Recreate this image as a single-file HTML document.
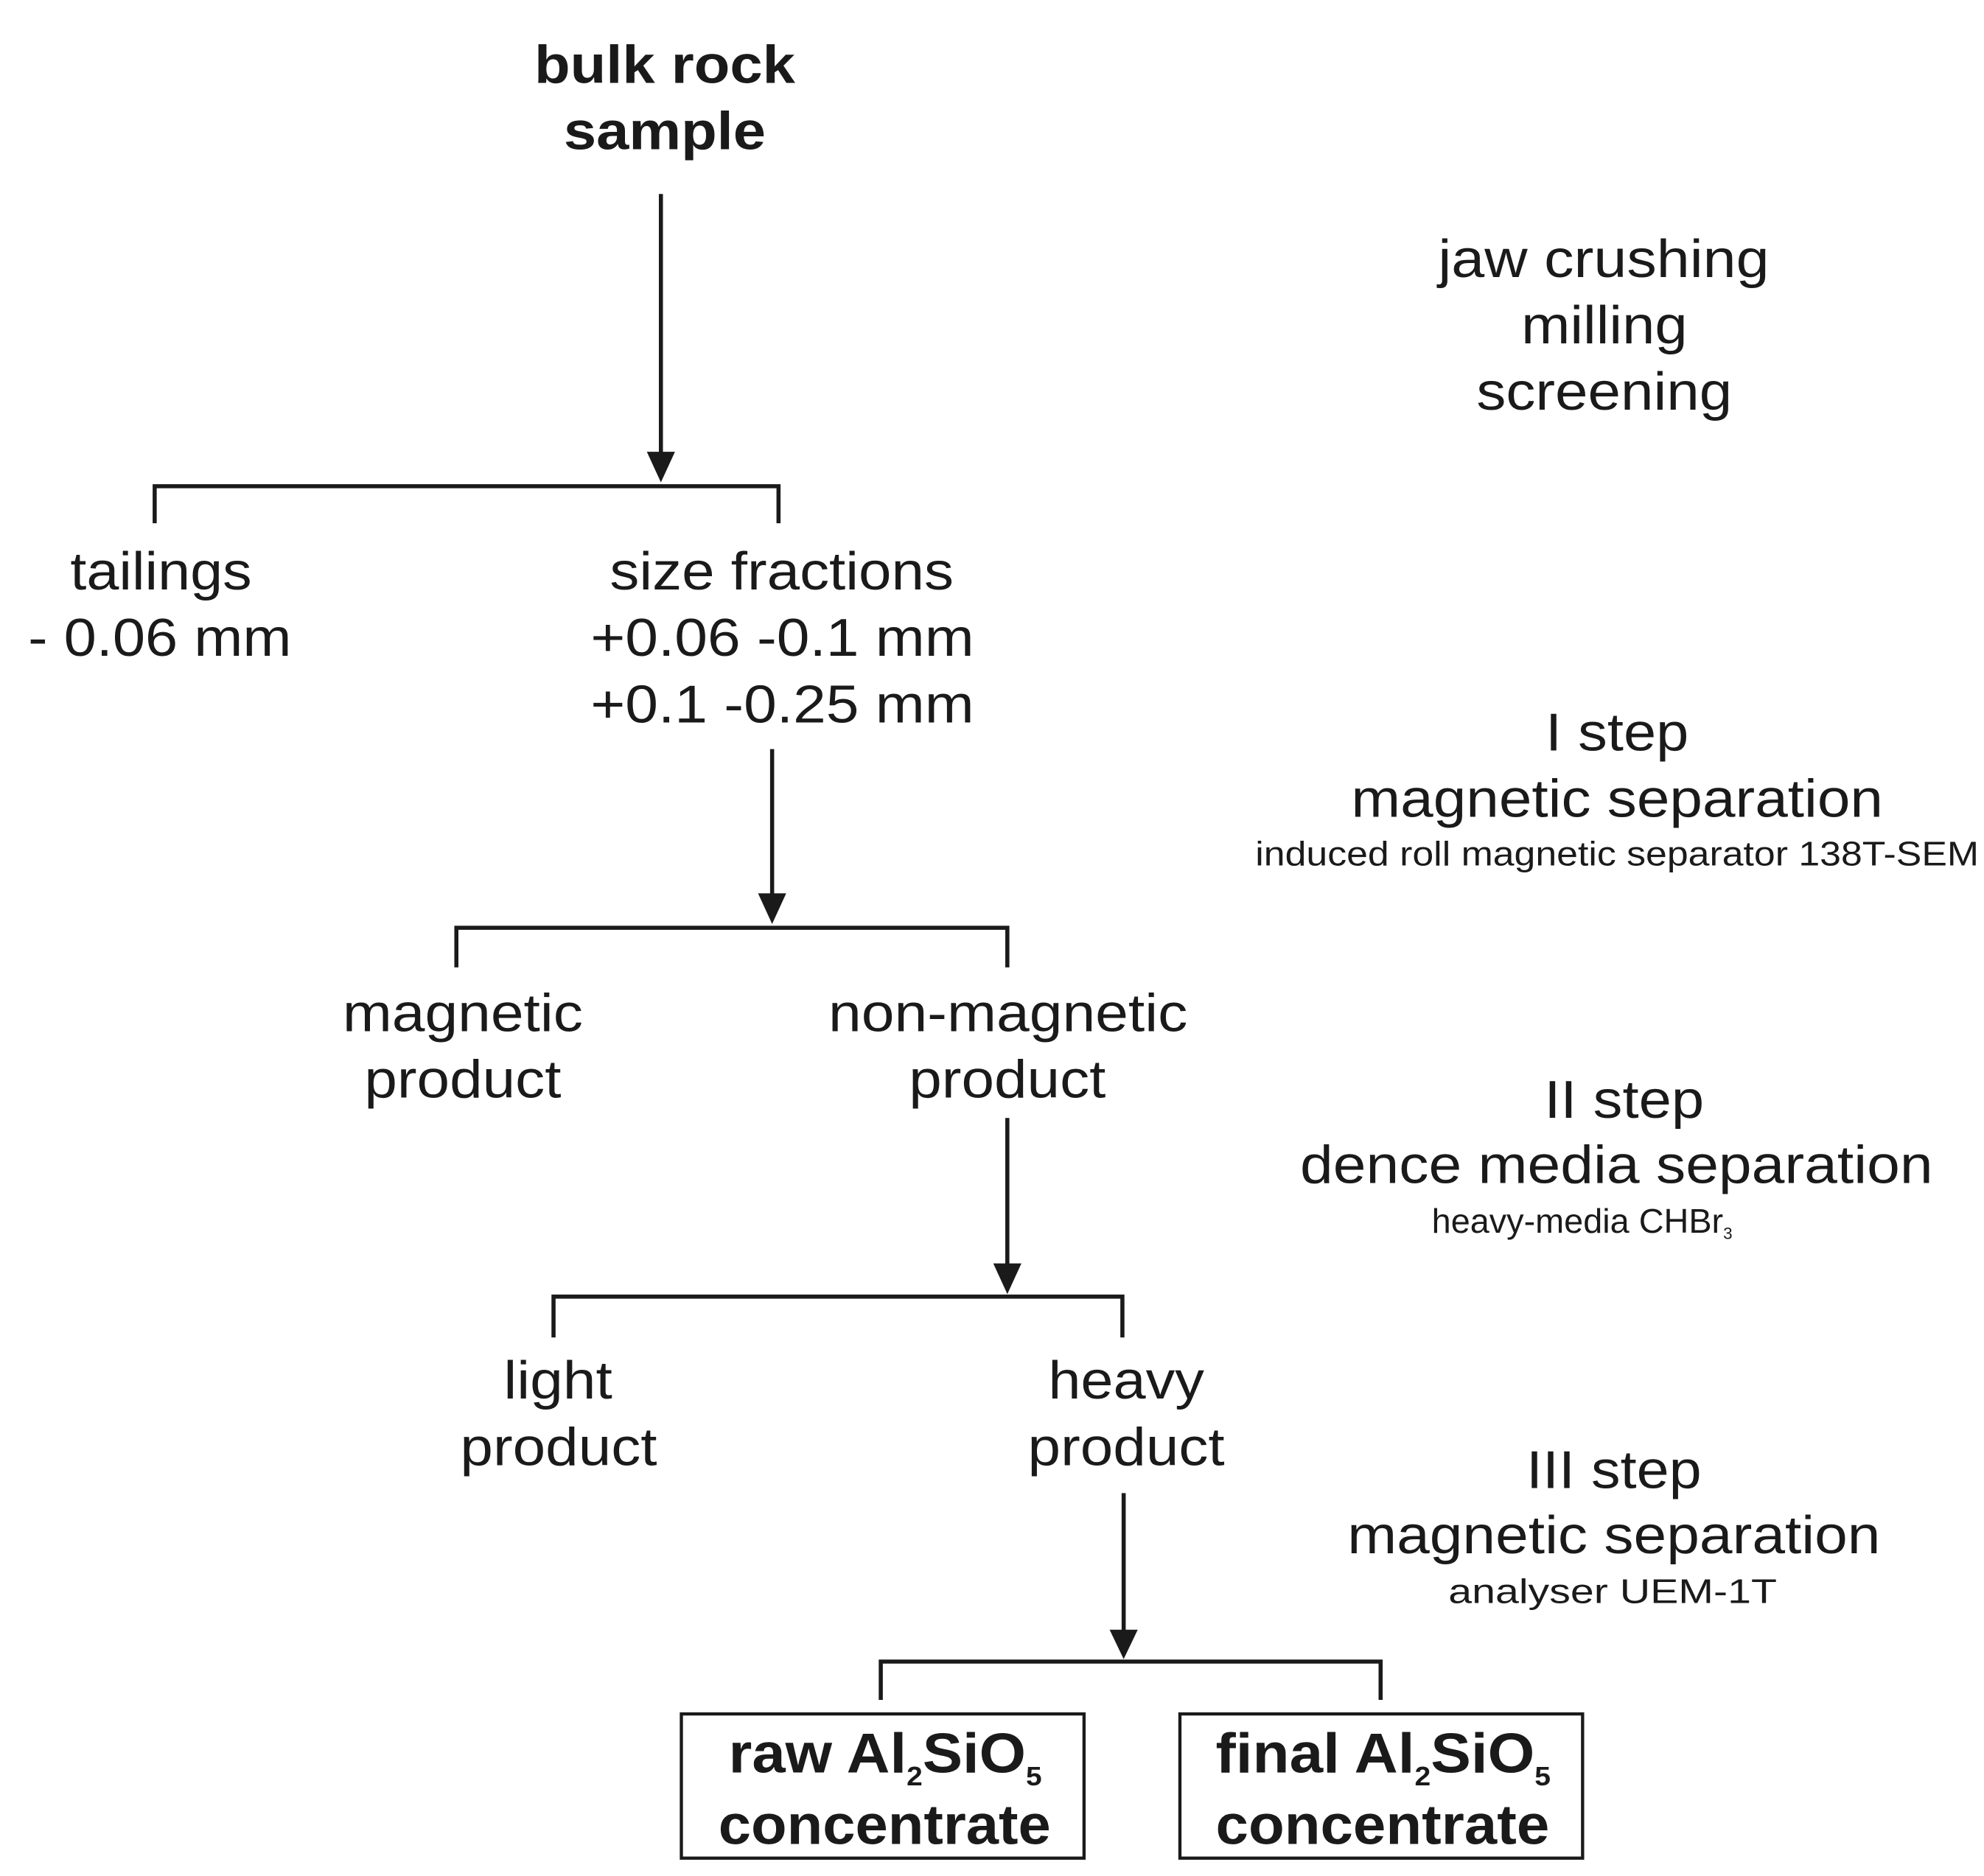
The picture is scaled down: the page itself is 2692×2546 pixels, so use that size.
<!DOCTYPE html>
<html><head><meta charset="utf-8"><style>html,body{margin:0;padding:0;background:#fff}svg{display:block}</style></head>
<body>
<svg width="2692" height="2546" viewBox="0 0 1552 1470" preserveAspectRatio="none" xmlns="http://www.w3.org/2000/svg">
<g stroke="#1a1a1a" stroke-width="3.2" fill="none">
<line x1="517" y1="152" x2="517" y2="356"/>
<polyline points="121,410 121,381 609,381 609,410"/>
<line x1="604" y1="587" x2="604" y2="702"/>
<polyline points="357,758 357,727 788,727 788,758"/>
<line x1="788" y1="876" x2="788" y2="992"/>
<polyline points="433,1048 433,1016 878,1016 878,1048"/>
<line x1="879" y1="1170" x2="879" y2="1280"/>
<polyline points="689,1332 689,1302 1080,1302 1080,1332"/>
<rect x="533" y="1343" width="315" height="113" stroke-width="2.5"/>
<rect x="923" y="1343" width="315" height="113" stroke-width="2.5"/>
</g>
<g fill="#1a1a1a">
<polygon points="506,354 528,354 517,378"/>
<polygon points="593,700 615,700 604,724"/>
<polygon points="777,990 799,990 788,1014"/>
<polygon points="868,1277 890,1277 879,1300"/>
</g>
<g font-family="Liberation Sans, Arial, sans-serif" fill="#1a1a1a">
<g font-weight="bold" font-size="44">
<text x="418" y="65" textLength="204" lengthAdjust="spacingAndGlyphs" font-size="42">bulk rock</text>
<text x="441" y="117" textLength="158" lengthAdjust="spacingAndGlyphs" font-size="42">sample</text>
<text x="562" y="1445" textLength="260" lengthAdjust="spacingAndGlyphs">concentrate</text>
<text x="951" y="1445" textLength="261" lengthAdjust="spacingAndGlyphs">concentrate</text>
<text x="570" y="1389" textLength="245" lengthAdjust="spacingAndGlyphs">raw Al<tspan font-size="21" dy="10">2</tspan><tspan dy="-10">SiO</tspan><tspan font-size="21" dy="10">5</tspan></text>
<text x="951" y="1389" textLength="262" lengthAdjust="spacingAndGlyphs">final Al<tspan font-size="21" dy="10">2</tspan><tspan dy="-10">SiO</tspan><tspan font-size="21" dy="10">5</tspan></text>
</g>
<g font-size="42">
<text x="55" y="462" textLength="142" lengthAdjust="spacingAndGlyphs">tailings</text>
<text x="22" y="514" textLength="206" lengthAdjust="spacingAndGlyphs">- 0.06 mm</text>
<text x="477" y="462" textLength="269" lengthAdjust="spacingAndGlyphs">size fractions</text>
<text x="462" y="514" textLength="300" lengthAdjust="spacingAndGlyphs">+0.06 -0.1 mm</text>
<text x="462" y="566" textLength="300" lengthAdjust="spacingAndGlyphs">+0.1 -0.25 mm</text>
<text x="268" y="808" textLength="188" lengthAdjust="spacingAndGlyphs">magnetic</text>
<text x="285" y="860" textLength="154" lengthAdjust="spacingAndGlyphs">product</text>
<text x="648" y="808" textLength="281" lengthAdjust="spacingAndGlyphs">non-magnetic</text>
<text x="711" y="860" textLength="154" lengthAdjust="spacingAndGlyphs">product</text>
<text x="394" y="1096" textLength="85" lengthAdjust="spacingAndGlyphs">light</text>
<text x="360" y="1148" textLength="154" lengthAdjust="spacingAndGlyphs">product</text>
<text x="820" y="1096" textLength="122" lengthAdjust="spacingAndGlyphs">heavy</text>
<text x="804" y="1148" textLength="154" lengthAdjust="spacingAndGlyphs">product</text>
<text x="1125" y="217" textLength="259" lengthAdjust="spacingAndGlyphs">jaw crushing</text>
<text x="1190" y="269" textLength="130" lengthAdjust="spacingAndGlyphs">milling</text>
<text x="1155" y="321" textLength="200" lengthAdjust="spacingAndGlyphs">screening</text>
<text x="1209" y="588" textLength="112" lengthAdjust="spacingAndGlyphs">I step</text>
<text x="1057" y="640" textLength="416" lengthAdjust="spacingAndGlyphs">magnetic separation</text>
<text x="1208" y="876" textLength="125" lengthAdjust="spacingAndGlyphs">II step</text>
<text x="1017" y="927" textLength="495" lengthAdjust="spacingAndGlyphs">dence media separation</text>
<text x="1194" y="1166" textLength="137" lengthAdjust="spacingAndGlyphs">III step</text>
<text x="1054" y="1217" textLength="417" lengthAdjust="spacingAndGlyphs">magnetic separation</text>
</g>
<g font-size="27">
<text x="982" y="678" textLength="566" lengthAdjust="spacingAndGlyphs">induced roll magnetic separator 138T-SEM</text>
<text x="1120" y="966">heavy-media CHBr<tspan font-size="13" dy="5">3</tspan></text>
<text x="1133" y="1256" textLength="257" lengthAdjust="spacingAndGlyphs">analyser UEM-1T</text>
</g>
</g>
</svg>
</body></html>
